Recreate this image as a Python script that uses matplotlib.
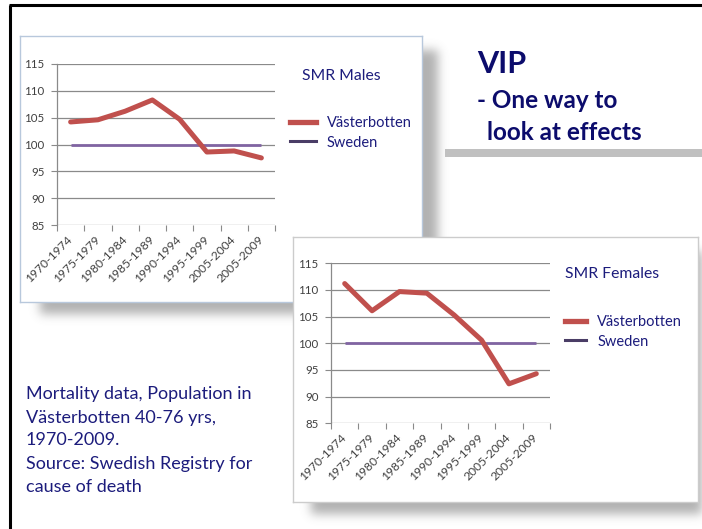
import numpy as np
import matplotlib
matplotlib.use("Agg")
import matplotlib.pyplot as plt
from matplotlib.lines import Line2D
from matplotlib.patches import Rectangle

plt.rcParams['font.family'] = ['Lato', 'DejaVu Sans']

categories = ["1970-1974", "1975-1979", "1980-1984", "1985-1989",
              "1990-1994", "1995-1999", "2005-2004", "2005-2009"]
males_vb = [104.2, 104.6, 106.2, 108.3, 104.7, 98.6, 98.8, 97.5]
females_vb = [111.2, 106.1, 109.7, 109.4, 105.3, 100.6, 92.4, 94.3]
sweden = [100, 100, 100, 100, 100, 100, 100, 100]
yticks = [85, 90, 95, 100, 105, 110, 115]

W, H = 702, 529
fig = plt.figure(figsize=(W / 100, H / 100), dpi=100)

def fx(x):
    return x / W

def fy(y):
    return 1 - y / H

RED = '#c0504d'
PURPLE = '#8064a2'
NAVY = '#1c1c7c'
DARKNAVY = '#0c0c6c'

# ---------- background with shadows ----------
bg = fig.add_axes([0, 0, 1, 1], zorder=0)
bg.set_xlim(0, W)
bg.set_ylim(H, 0)
bg.axis('off')

mask = np.zeros((H, W))
def add_shadow(x0, y0, x1, y1, dx, dy):
    mask[max(0, y0 + dy):min(H, y1 + dy), max(0, x0 + dx):min(W, x1 + dx)] = 1.0
add_shadow(30, 40, 428, 304, 10, 10)
add_shadow(303, 241, 704, 504, 8, 10)
k = np.exp(-0.5 * (np.arange(-15, 16) / 5.0) ** 2)
k /= k.sum()
blur = np.apply_along_axis(lambda r: np.convolve(r, k, mode='same'), 1, mask)
blur = np.apply_along_axis(lambda c: np.convolve(c, k, mode='same'), 0, blur)
img = np.zeros((H, W, 4))
img[..., :3] = 0.45
img[..., 3] = blur * 0.55
bg.imshow(img, extent=[0, W, H, 0], interpolation='bilinear', zorder=0)

# slide frame (top and left black lines)
bg.plot([9, W], [5, 5], color='black', lw=2.2, solid_capstyle='butt', zorder=2)
bg.plot([9.5, 9.5], [5, H], color='black', lw=2.2, solid_capstyle='butt', zorder=2)

# gray bar under title
bg.add_patch(Rectangle((445, 149), W - 445, 7.5, facecolor='#c0c0c0', edgecolor='none', zorder=2))

bg.text(477, 73, "VIP", fontsize=22, fontweight='bold', color=DARKNAVY, va='baseline', ha='left')
bg.text(477, 108, "- One way to", fontsize=17.5, fontweight='bold', color=DARKNAVY, va='baseline', ha='left')
bg.text(487, 140, "look at effects", fontsize=17.5, fontweight='bold', color=DARKNAVY, va='baseline', ha='left')

notes = ["Mortality data, Population in", "V\u00e4sterbotten 40-76 yrs,",
         "1970-2009.", "Source: Swedish Registry for", "cause of death"]
for line, yb in zip(notes, [399, 423, 445, 469, 492]):
    bg.text(26, yb, line, fontsize=13, color=NAVY, va='baseline', ha='left')


def make_panel(px0, py0, px1, py1, z, edge):
    pa = fig.add_axes([fx(px0), fy(py1), fx(px1 - px0), (py1 - py0) / H], zorder=z)
    pa.set_xticks([])
    pa.set_yticks([])
    pa.set_facecolor('white')
    for s in pa.spines.values():
        s.set_color(edge)
        s.set_linewidth(1.0)
    return pa


def make_chart(ax0, ay0, ax1, ay1, z, vb, title, tx, ty, lx, ly, hlen):
    ax = fig.add_axes([fx(ax0), fy(ay1), fx(ax1 - ax0), (ay1 - ay0) / H], zorder=z)
    ax.patch.set_alpha(0)
    n = len(categories)
    xs = np.arange(n) + 0.5
    ax.set_xlim(0, n)
    ax.set_ylim(85, 115)
    ax.set_yticks(yticks)
    ax.set_yticklabels([str(v) for v in yticks])
    ax.yaxis.grid(True, color='#8a8a8a', lw=0.9)
    ax.set_axisbelow(True)
    ax.set_xticks(np.arange(n + 1))
    ax.set_xticklabels([])
    ax.set_xticks(xs, minor=True)
    ax.set_xticklabels(categories, minor=True, rotation=45, ha='right',
                       rotation_mode='anchor', va='center', fontsize=8.7, color='#404040')
    ax.tick_params(axis='x', which='minor', length=0, pad=9)
    ax.tick_params(axis='x', which='major', length=4, color='#8a8a8a', direction='out')
    ax.tick_params(axis='y', length=4, color='#8a8a8a', labelsize=8.3, labelcolor='#404040', pad=5)
    for s in ['top', 'right', 'bottom']:
        ax.spines[s].set_visible(False)
    ax.spines['left'].set_color('#8a8a8a')
    ax.spines['left'].set_linewidth(0.9)
    ax.plot(xs, sweden, color=PURPLE, lw=2.0, solid_capstyle='butt', zorder=3)
    ax.plot(xs, vb, color=RED, lw=3.6, solid_capstyle='round', solid_joinstyle='round', zorder=4)
    ax.text(fx(tx), fy(ty), title, transform=fig.transFigure, fontsize=11.3, color=NAVY,
            va='baseline', ha='left')
    handles = [Line2D([], [], color=RED, lw=3.8), Line2D([], [], color='#4a3d66', lw=2.2)]
    ax.legend(handles, ["V\u00e4sterbotten", "Sweden"], loc='center left',
              bbox_to_anchor=(fx(lx), fy(ly)), bbox_transform=fig.transFigure,
              frameon=False, fontsize=10.5, handlelength=hlen, handletextpad=0.75,
              labelspacing=0.35, borderpad=0, borderaxespad=0, labelcolor=NAVY)
    return ax


make_panel(20, 36, 422, 302, 1, '#b8c8dc')
make_chart(57, 64, 275, 225, 2, males_vb, "SMR Males", 302, 80, 290, 133, 1.75)
make_panel(293, 237, 698, 502, 3, '#cccccc')
make_chart(331, 263.3, 550, 423.3, 4, females_vb, "SMR Females", 565, 278, 565, 332, 1.45)

fig.savefig('out.png', dpi=100)
